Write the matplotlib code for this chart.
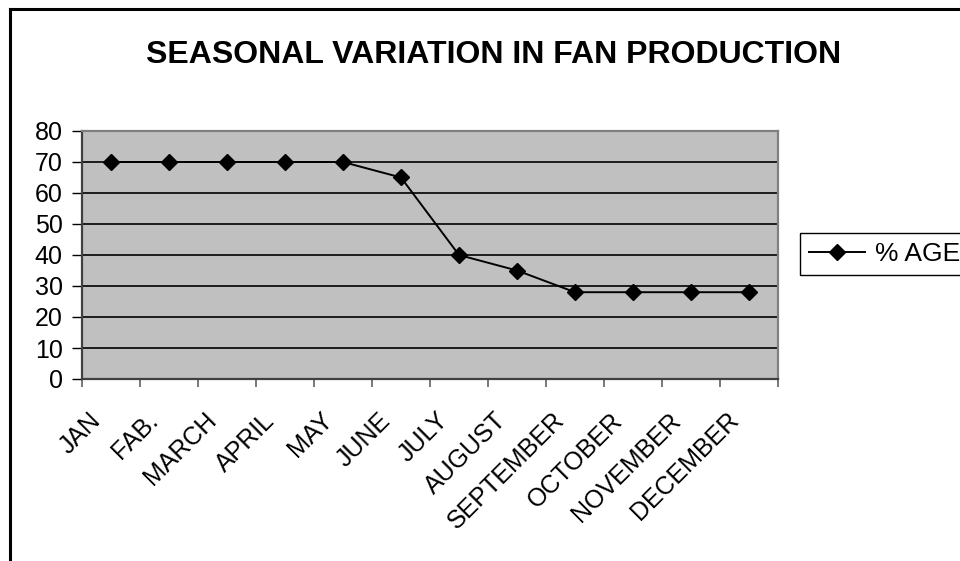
import matplotlib
matplotlib.use("Agg")
import matplotlib.pyplot as plt
from matplotlib.lines import Line2D
from matplotlib.transforms import ScaledTranslation

months = ["JAN", "FAB.", "MARCH", "APRIL", "MAY", "JUNE", "JULY", "AUGUST",
          "SEPTEMBER", "OCTOBER", "NOVEMBER", "DECEMBER"]
pct_age = [70, 70, 70, 70, 70, 65, 40, 35, 28, 28, 28, 28]
y_ticks = [0, 10, 20, 30, 40, 50, 60, 70, 80]
title = "SEASONAL VARIATION IN FAN PRODUCTION"
series_name = "% AGE"

plt.rcParams['font.family'] = ['Liberation Sans', 'DejaVu Sans']

fig = plt.figure(figsize=(9.6, 5.61), dpi=100)
W, H = 960, 561
ax = fig.add_axes([82 / W, 1 - 379 / H, (778 - 82) / W, (379 - 131) / H])
ax.set_facecolor('#C0C0C0')

x = list(range(len(months)))
ax.plot(x, pct_age, color='black', lw=1.4, marker='D', markersize=7.8,
        markerfacecolor='black', markeredgecolor='black', label=series_name,
        zorder=3)

ax.set_xlim(-0.5, len(months) - 0.5)
ax.set_ylim(0, 80)
ax.set_yticks(y_ticks)
ax.yaxis.grid(True, color='black', lw=1.2)
ax.set_axisbelow(True)

ax.set_xticks(x)
ax.set_xticklabels(months, rotation=45, ha='right', va='top', fontsize=18)
ax.set_xticks([i - 0.5 for i in range(len(months) + 1)], minor=True)
ax.tick_params(axis='x', which='major', length=0, pad=21)
ax.tick_params(axis='x', which='minor', length=6, width=1.2, color='#606060')
ax.tick_params(axis='y', length=7, width=1, color='black', labelsize=18, pad=7)
off = ScaledTranslation(-6 / 100, 0, fig.dpi_scale_trans)
for lab in ax.get_xticklabels():
    lab.set_transform(lab.get_transform() + off)

for s in ['top', 'right']:
    ax.spines[s].set_color('#808080')
    ax.spines[s].set_linewidth(1.6)
for s in ['left', 'bottom']:
    ax.spines[s].set_color('#404040')
    ax.spines[s].set_linewidth(1.6)

fig.text(494 / W, 1 - 55 / H, title, ha='center', va='center',
         fontsize=23, fontweight='bold')

leg = ax.legend(loc='upper left', bbox_to_anchor=(800 / W, 1 - 233 / H),
                bbox_transform=fig.transFigure, fontsize=19, frameon=True,
                fancybox=False, edgecolor='black', framealpha=1,
                handlelength=2.1, handletextpad=0.4, borderpad=0.35,
                borderaxespad=0)
leg.get_frame().set_linewidth(1.0)

# outer chart frame (top and left edges visible)
fig.add_artist(Line2D([10 / W, 1.0], [1 - 9 / H, 1 - 9 / H], color='black',
                      lw=2.2, transform=fig.transFigure))
fig.add_artist(Line2D([10 / W, 10 / W], [0, 1 - 9 / H], color='black',
                      lw=2.2, transform=fig.transFigure))

fig.savefig("out.png", dpi=100)
